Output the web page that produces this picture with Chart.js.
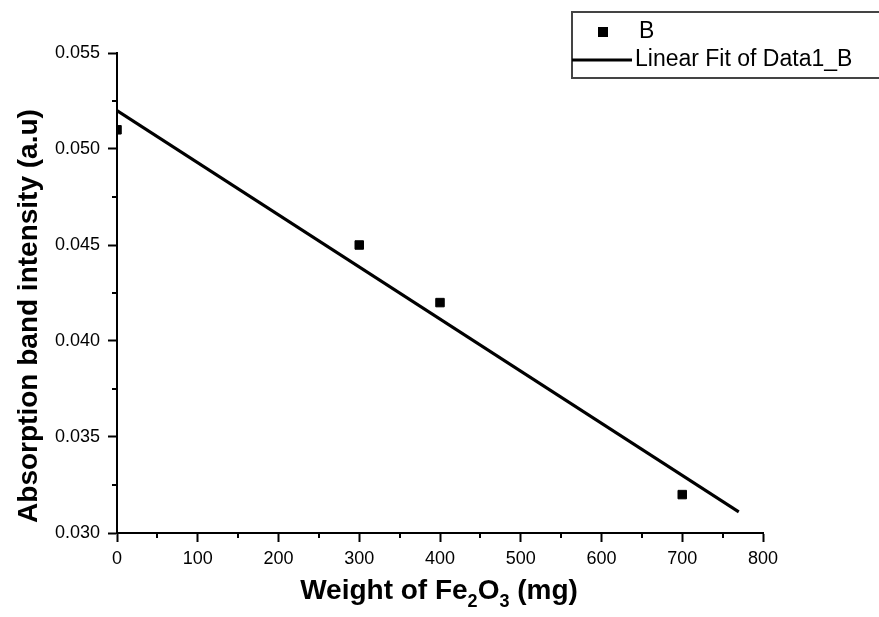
<!DOCTYPE html>
<html>
<head>
<meta charset="utf-8">
<script src="https://cdn.jsdelivr.net/npm/chart.js@4.4.0/dist/chart.umd.min.js"></script>
<style>
  html, body { margin: 0; padding: 0; background: #fff; }
  #wrap { width: 879px; height: 617px; position: relative; }
</style>
</head>
<body>
<div id="wrap"><canvas id="chart"></canvas></div>
<script>
// measured points (series B)
const weights = [0, 300, 400, 700];
const intensity = [0.051, 0.045, 0.042, 0.032];
// linear fit line, endpoints
const fitX = [0, 770];
const fitY = [0.0520, 0.0311];
const xTicks = [0, 100, 200, 300, 400, 500, 600, 700, 800];
const yTicks = [0.030, 0.035, 0.040, 0.045, 0.050, 0.055];
const xMinor = [50, 150, 250, 350, 450, 550, 650, 750];
const yMinor = [0.0325, 0.0375, 0.0425, 0.0475, 0.0525];

const FONT = "'Liberation Sans', Arial, sans-serif";

const pts = weights.map((w, i) => ({ x: w, y: intensity[i] }));
const fit = fitX.map((x, i) => ({ x: x, y: fitY[i] }));

// minor ticks, axis titles and legend
const extras = {
    id: 'extras',
    afterDraw(chart) {
        const c = chart.ctx;
        const xs = chart.scales.x, ys = chart.scales.y;
        const area = chart.chartArea;
        c.save();
        c.strokeStyle = '#000';
        c.lineWidth = 2;
        c.beginPath();
        xMinor.forEach(v => {
            const px = Math.round(xs.getPixelForValue(v));
            c.moveTo(px, area.bottom);
            c.lineTo(px, area.bottom + 5);
        });
        yMinor.forEach(v => {
            const py = Math.round(ys.getPixelForValue(v));
            c.moveTo(area.left, py);
            c.lineTo(area.left - 5, py);
        });
        c.stroke();

        // x title with subscripts
        const big = 'bold 28px ' + FONT, small = 'bold 18px ' + FONT;
        const parts = [['Weight of Fe', big, 0], ['2', small, 8], ['O', big, 0], ['3', small, 8], [' (mg)', big, 0]];
        let total = 0;
        parts.forEach(p => { c.font = p[1]; total += c.measureText(p[0]).width; });
        let tx = 439 - total / 2;
        c.fillStyle = '#000';
        c.textBaseline = 'alphabetic';
        c.textAlign = 'left';
        parts.forEach(p => {
            c.font = p[1];
            c.fillText(p[0], tx, 599 + p[2]);
            tx += c.measureText(p[0]).width;
        });

        // y title
        c.save();
        c.translate(29, 316);
        c.rotate(-Math.PI / 2);
        c.font = big;
        c.textAlign = 'center';
        c.textBaseline = 'middle';
        c.fillText('Absorption band intensity (a.u)', 0, 0);
        c.restore();

        // legend
        c.strokeStyle = '#444';
        c.lineWidth = 2;
        c.strokeRect(572, 12, 320, 66);
        c.fillStyle = '#000';
        c.fillRect(598, 27, 10, 10);
        c.strokeStyle = '#000';
        c.lineWidth = 3;
        c.beginPath();
        c.moveTo(572, 60);
        c.lineTo(632, 60);
        c.stroke();
        c.font = '23px ' + FONT;
        c.textBaseline = 'middle';
        c.fillText('B', 639, 32);
        c.fillText('Linear Fit of Data1_B', 635, 60);
        c.restore();
    }
};

new Chart(document.getElementById('chart'), {
    type: 'scatter',
    data: {
        datasets: [
            {
                label: 'B',
                data: pts,
                pointStyle: 'rect',
                pointRadius: 6,
                pointBackgroundColor: '#000',
                pointBorderColor: '#000',
                pointBorderWidth: 1,
                showLine: false,
                clip: 0
            },
            {
                label: 'Linear Fit of Data1_B',
                data: fit,
                showLine: true,
                borderColor: '#000',
                borderWidth: 3,
                pointRadius: 0,
                clip: 0
            }
        ]
    },
    options: {
        responsive: true,
        maintainAspectRatio: false,
        animation: false,
        layout: { padding: { top: 53, right: 116, left: 0, bottom: 0 } },
        plugins: { legend: { display: false }, tooltip: { enabled: false } },
        scales: {
            x: {
                type: 'linear',
                min: 0, max: 800,
                afterBuildTicks: s => { s.ticks = xTicks.map(v => ({ value: v })); },
                afterFit: s => { s.height = 84; },
                ticks: { color: '#000', font: { family: FONT, size: 18 }, padding: 6, maxRotation: 0 },
                grid: { drawOnChartArea: false, tickLength: 9, tickColor: '#000', tickWidth: 2 },
                border: { display: true, color: '#000', width: 2 }
            },
            y: {
                type: 'linear',
                min: 0.030, max: 0.055,
                afterBuildTicks: s => { s.ticks = yTicks.map(v => ({ value: v })); },
                afterFit: s => { s.width = 117; },
                ticks: { color: '#000', font: { family: FONT, size: 18 }, padding: 8,
                    callback: v => v.toFixed(3) },
                grid: { drawOnChartArea: false, tickLength: 9, tickColor: '#000', tickWidth: 2 },
                border: { display: true, color: '#000', width: 2 }
            }
        }
    },
    plugins: [extras]
});
</script>
</body>
</html>
